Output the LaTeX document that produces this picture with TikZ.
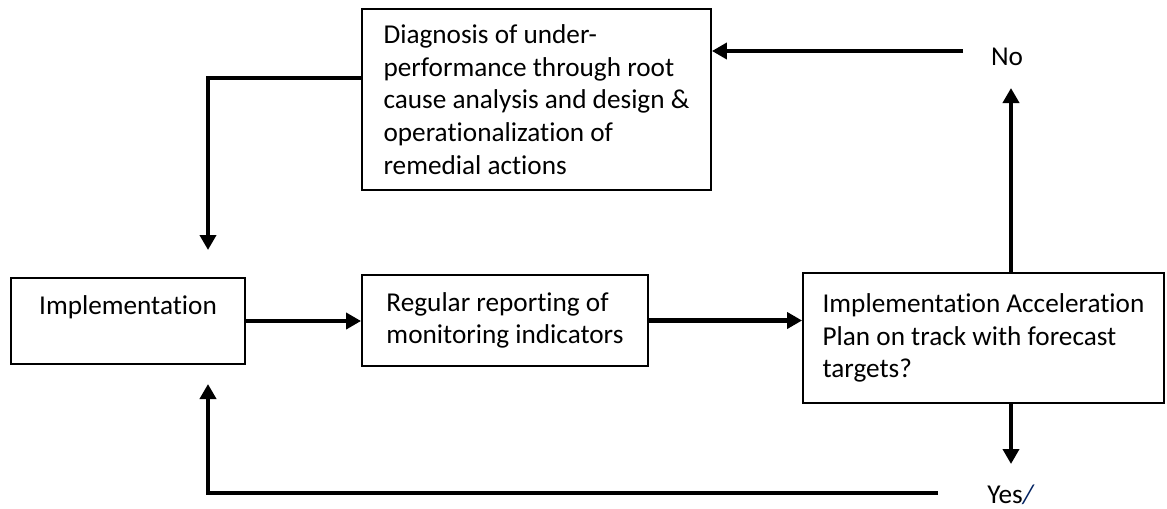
\documentclass[tikz,border=0pt]{standalone}
\usepackage{fontspec}
\setmainfont{Carlito}[Ligatures=NoCommon]
\usepackage{tikz}
\usetikzlibrary{arrows.meta}
\usepackage{xcolor}
\definecolor{slashblue}{RGB}{0,32,96}

\begin{document}
\begin{tikzpicture}[x=0.02cm, y=-0.02cm, box node/.style={draw, rectangle, line width=1.1pt, align=left, inner sep=0pt, font=\fontsize{15.5}{18.6}\selectfont}, text node/.style={font=\fontsize{15.5}{18.6}\selectfont, inner sep=0pt}, arrow line/.style={-{Triangle[length=0.3cm,width=0.32cm]}, line width=2.3pt}]
\useasboundingbox (0,0) rectangle (1167,508);
\node[box node, align=center, minimum width=4.68cm, minimum height=1.72cm] (1) at (128,321) {Implementation\\\mbox{}};
\node[box node, minimum width=5.72cm, minimum height=1.82cm] (2) at (505,320.5) {Regular reporting of\\monitoring indicators};
\node[box node, minimum width=7.22cm, minimum height=2.6cm] (3) at (983.5,338) {Implementation Acceleration\\Plan on track with forecast\\targets?};
\node[box node, minimum width=6.98cm, minimum height=3.62cm] (4) at (536.5,99.5) {Diagnosis of under-\\performance through root\\cause analysis and design \&\\operationalization of\\remedial actions};
\node[text node, anchor=base] (5) at (1007,65.5) {No};
\node[text node, anchor=base] (6) at (1011,503) {Yes\textcolor{slashblue}{\textit{/}}};
\coordinate (a) at (963,51);
\coordinate (b) at (1011,88);
\coordinate (c) at (208,78);
\coordinate (d) at (208,250);
\coordinate (e) at (1011,464);
\coordinate (f) at (938,493);
\coordinate (g) at (208,384);
\draw[arrow line] (a) -- (a -| 4.east);
\draw[arrow line] (3.north -| b) -- (b);
\draw[arrow line] (4.west |- c) -- (c) -- (d);
\draw[arrow line] (1.east) -- (1.east -| 2.west);
\draw[arrow line] (2.east) -- (2.east -| 3.west);
\draw[arrow line] (3.south -| e) -- (e);
\draw[arrow line] (f) -- (f -| g) -- (g);
\end{tikzpicture}
\end{document}
